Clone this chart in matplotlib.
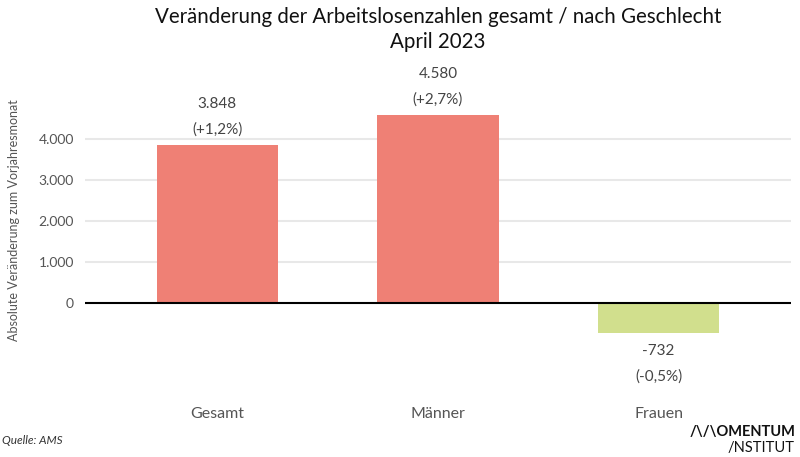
import matplotlib
matplotlib.use("Agg")
import matplotlib.pyplot as plt

categories = ["Gesamt", "Männer", "Frauen"]
values = [3848, 4580, -732]
value_labels = ["3.848", "4.580", "-732"]
pct_labels = ["(+1,2%)", "(+2,7%)", "(-0,5%)"]
yticks = [0, 1000, 2000, 3000, 4000]
ytick_labels = ["0", "1.000", "2.000", "3.000", "4.000"]
colors = ["#EF8075", "#EF8075", "#D1DF8D"]

plt.rcParams['font.family'] = ['Lato', 'DejaVu Sans']

W, H = 800, 457
fig = plt.figure(figsize=(8, 4.57), dpi=100)
ax_l, ax_r, ax_t, ax_b = 85, 791, 60, 390
ax = fig.add_axes([ax_l / W, (H - ax_b) / H, (ax_r - ax_l) / W, (ax_b - ax_t) / H])

x = list(range(len(categories)))
ax.bar(x, values, width=0.55, color=colors, zorder=3)
ax.set_xlim(-0.6, 2.6)
ax.set_ylim(-2122, 5927)

for v in yticks[1:]:
    ax.axhline(v, color="#E8E8E8", lw=1.5, zorder=1)
ax.axhline(0, color="black", lw=1.5, zorder=4)

ax.set_yticks(yticks)
ax.set_yticklabels(ytick_labels, color="#555555", fontsize=10)
ax.tick_params(axis='y', length=0, pad=8)
ax.set_xticks(x)
ax.set_xticklabels(categories, color="#555555", fontsize=11.5)
ax.tick_params(axis='x', length=0, pad=12)
for s in ax.spines.values():
    s.set_visible(False)

lab_kw = dict(textcoords="offset points", ha="center", va="center", fontsize=11, color="#444444")
for xi, v, vl, pl in zip(x, values, value_labels, pct_labels):
    if v >= 0:
        ax.annotate(pl, (xi, v), xytext=(0, 11.5), **lab_kw)
        ax.annotate(vl, (xi, v), xytext=(0, 29.5), **lab_kw)
    else:
        ax.annotate(vl, (xi, v), xytext=(0, -13), **lab_kw)
        ax.annotate(pl, (xi, v), xytext=(0, -31.5), **lab_kw)

ax.set_ylabel("Absolute Veränderung zum Vorjahresmonat", fontsize=9, color="#555555")
ax.yaxis.set_label_coords(-(ax_l - 20) / (ax_r - ax_l), (ax_b - 220) / (ax_b - ax_t))

cx = (ax_l + ax_r) / 2 / W
fig.text(cx, 1 - 17 / H, "Veränderung der Arbeitslosenzahlen gesamt / nach Geschlecht",
         ha="center", va="center", fontsize=14.8, color="#111111")
fig.text(cx, 1 - 42 / H, "April 2023", ha="center", va="center", fontsize=14.8, color="#111111")

fig.text(0.002, 1 - 441 / H, "Quelle: AMS", ha="left", va="center", fontsize=8.5,
         style="italic", color="#333333")
fig.text(795 / W, 1 - 432 / H, "/\\/\\OMENTUM", ha="right", va="center", fontsize=10.5,
         weight="bold", color="#111111")
fig.text(795 / W, 1 - 448 / H, "/NSTITUT", ha="right", va="center", fontsize=10.5,
         color="#111111")

fig.savefig("out.png", dpi=100)
